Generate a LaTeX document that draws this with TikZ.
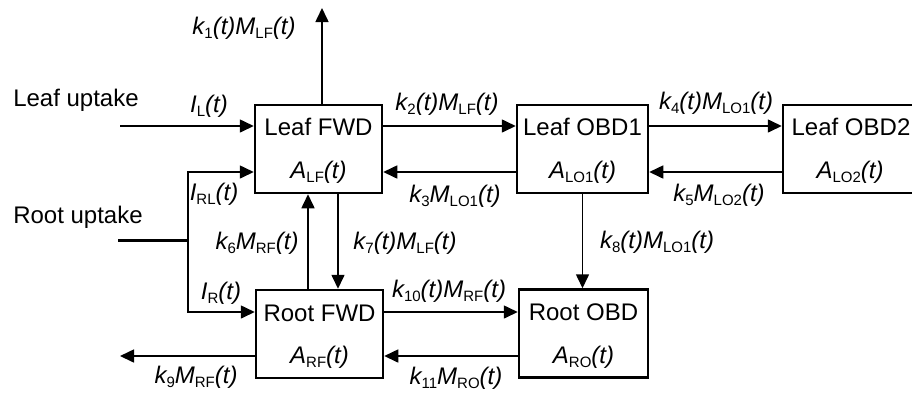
\documentclass[tikz,border=0pt]{standalone}
\usepackage{fontspec}
\setmainfont{Liberation Sans}
\usetikzlibrary{arrows.meta}
\newcommand{\lsub}[1]{\raisebox{-0.3ex}{\upshape\fontsize{15}{15}\selectfont #1}}
\begin{document}
\begin{tikzpicture}[x=1pt,y=-1pt,
  box/.style={draw,line width=2.5pt,minimum width=127pt,minimum height=88pt,inner sep=0pt},
  lbl/.style={font=\fontsize{24}{24}\selectfont,inner sep=0pt},
  mlbl/.style={font=\fontsize{24}{24}\selectfont\itshape,inner sep=0pt},
  arr/.style={line width=1.6pt,-{Triangle[length=14pt,width=13pt]}},
  thickln/.style={line width=3pt}]
\useasboundingbox (0,0) rectangle (912,392);
\clip (0,0) rectangle (912,392);
% boxes
\node[box] (LF) at (318.5,149) {};
\node[box,minimum width=131pt] (LO1) at (582.5,149) {};
\node[box,minimum width=131pt] (LO2) at (848.5,149) {};
\node[box] (RF) at (319.5,334) {};
\node[box,minimum width=129pt] (RO) at (583.5,333.5) {};
% box texts
\node[lbl] (LFt) at (318.5,127) {Leaf FWD};
\node[mlbl] (LFa) at (318.5,172) {A\lsub{LF}(t)};
\node[lbl] (LO1t) at (582.5,127) {Leaf OBD1};
\node[mlbl] (LO1a) at (582.5,172) {A\lsub{LO1}(t)};
\node[lbl] (LO2t) at (851,127) {Leaf OBD2};
\node[mlbl] (LO2a) at (850,172) {A\lsub{LO2}(t)};
\node[lbl] (RFt) at (319.5,313) {Root FWD};
\node[mlbl] (RFa) at (319.5,357) {A\lsub{RF}(t)};
\node[lbl] (ROt) at (583.5,312) {Root OBD};
\node[mlbl] (ROa) at (583.5,357) {A\lsub{RO}(t)};
% helper coordinates
\coordinate (r1) at (0,126);
\coordinate (r2) at (0,172);
\coordinate (r3) at (0,312);
\coordinate (r4) at (0,356);
\coordinate (c1) at (322,0);
\coordinate (c6) at (308,0);
\coordinate (c7) at (338,0);
\coordinate (top) at (322,8);
\coordinate (lu) at (120,126);
\coordinate (ru) at (118,240);
\coordinate (jm) at (188,240);
\coordinate (k9e) at (120,356);
% connectors
\draw[arr] (lu) -- (LF.west |- r1);
\draw[arr] (LF.north -| c1) -- (top);
\draw[arr] (LF.east |- r1) -- (LO1.west |- r1);
\draw[arr] (LO1.west |- r2) -- (LF.east |- r2);
\draw[arr] (LO1.east |- r1) -- (LO2.west |- r1);
\draw[arr] (LO2.west |- r2) -- (LO1.east |- r2);
\draw[thickln] (ru) -- (jm);
\draw[arr] (jm) |- (LF.west |- r2);
\draw[arr] (jm) |- (RF.west |- r3);
\draw[arr] (RF.north -| c6) -- (LF.south -| c6);
\draw[arr] (LF.south -| c7) -- (RF.north -| c7);
\draw[arr] (LO1.south) -- (LO1.south |- RO.north);
\draw[arr] (RF.east |- r3) -- (RO.west |- r3);
\draw[arr] (RO.west |- r4) -- (RF.east |- r4);
\draw[arr] (RF.west |- r4) -- (k9e);
% labels
\node[lbl] (lup) at (76,100) {Leaf uptake};
\node[lbl] (rup) at (78,217) {Root uptake};
\node[mlbl] (k1) at (244,28) {k\lsub{1}(t)M\lsub{LF}(t)};
\node[mlbl] (IL) at (209,106) {I\lsub{L}(t)};
\node[mlbl] (k2) at (447,104) {k\lsub{2}(t)M\lsub{LF}(t)};
\node[mlbl] (k4) at (716,103) {k\lsub{4}(t)M\lsub{LO1}(t)};
\node[mlbl] (IRL) at (214,194) {I\lsub{RL}(t)};
\node[mlbl] (k3) at (455,196) {k\lsub{3}M\lsub{LO1}(t)};
\node[mlbl] (k5) at (719,195) {k\lsub{5}M\lsub{LO2}(t)};
\node[mlbl] (k6) at (257,243) {k\lsub{6}M\lsub{RF}(t)};
\node[mlbl] (k7) at (405,243) {k\lsub{7}(t)M\lsub{LF}(t)};
\node[mlbl] (k8) at (657,242) {k\lsub{8}(t)M\lsub{LO1}(t)};
\node[mlbl] (IR) at (221,293) {I\lsub{R}(t)};
\node[mlbl] (k10) at (449,291) {k\lsub{10}(t)M\lsub{RF}(t)};
\node[mlbl] (k9) at (196,377) {k\lsub{9}M\lsub{RF}(t)};
\node[mlbl] (k11) at (456,378) {k\lsub{11}M\lsub{RO}(t)};
\end{tikzpicture}
\end{document}
